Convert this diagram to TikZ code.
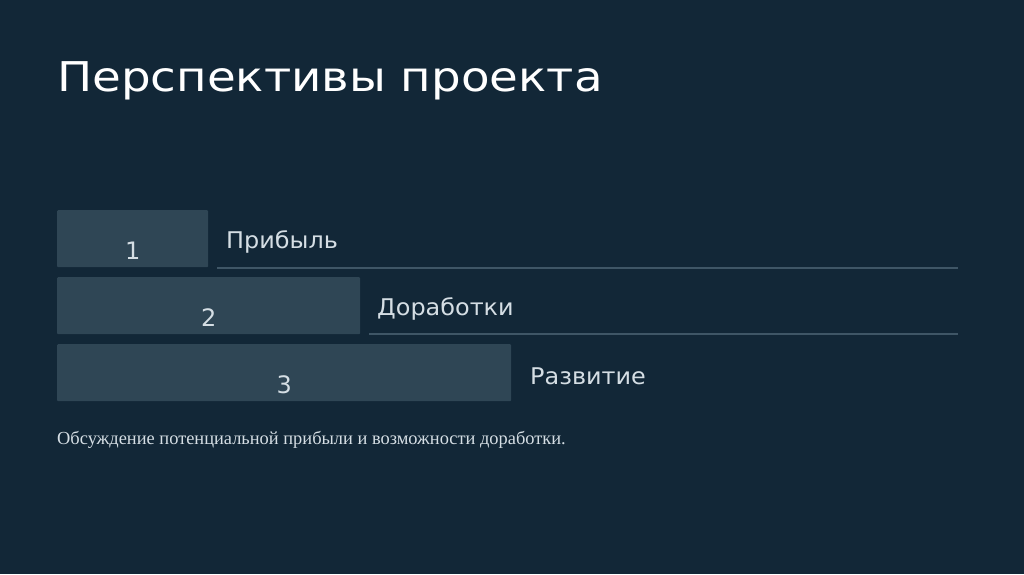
\documentclass[tikz,border=0pt]{standalone}
\usepackage{fontspec}
\setmainfont{Liberation Serif}
\newfontfamily\headfont{DejaVu Sans}
\usepackage{tikz}

\definecolor{slidebg}{HTML}{122737}
\definecolor{boxfill}{HTML}{2F4655}
\definecolor{rulegray}{HTML}{3F5666}
\definecolor{lighttext}{HTML}{D5DEE4}

\tikzset{
  numbox/.style={fill=boxfill, rounded corners=1pt, inner sep=0pt, anchor=north west},
  numtext/.style={text=lighttext, font=\headfont\fontsize{24}{28}\selectfont},
  itemtext/.style={anchor=west, text=lighttext, inner sep=0pt, xscale=1.04, font=\headfont\fontsize{23}{27}\selectfont},
}

\begin{document}
\begin{tikzpicture}[x=1pt,y=-1pt]
  \fill[slidebg] (0,0) rectangle (1024,574);
  \useasboundingbox (0,0) rectangle (1024,574);

  \node[anchor=west, text=white, font=\headfont\fontsize{41}{48}\selectfont, inner sep=0pt, xscale=1.14] (title) at (57,81) {Перспективы проекта};

  \node[numbox, minimum width=151pt, minimum height=57pt] (box1) at (57,210) {};
  \node[numbox, minimum width=303pt, minimum height=57pt] (box2) at (57,277) {};
  \node[numbox, minimum width=454pt, minimum height=57pt] (box3) at (57,344) {};

  \node[numtext] (n1) at ([yshift=-12pt]box1.center) {1};
  \node[numtext] (n2) at ([yshift=-12pt]box2.center) {2};
  \node[numtext] (n3) at ([yshift=-12pt]box3.center) {3};

  \node[itemtext] (item1) at (226,242) {Прибыль};
  \node[itemtext] (item2) at (377,309) {Доработки};
  \node[itemtext] (item3) at (530,376) {Развитие};

  \coordinate (rule1a) at (217,268);
  \coordinate (rule1b) at (958,268);
  \coordinate (rule2a) at (369,334);
  \coordinate (rule2b) at (958,334);
  \draw[rulegray, line width=1.2pt] (rule1a) -- (rule1b);
  \draw[rulegray, line width=1.2pt] (rule2a) -- (rule2b);

  \node[anchor=west, text=lighttext, font=\fontsize{18.4}{21}\selectfont, inner sep=0pt] (note) at (57,440) {Обсуждение потенциальной прибыли и возможности доработки.};
\end{tikzpicture}
\end{document}
